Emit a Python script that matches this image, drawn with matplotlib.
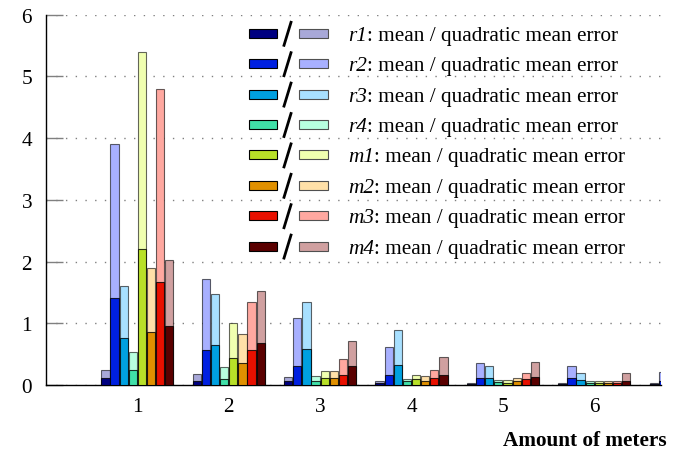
import numpy as np
import matplotlib
matplotlib.use("Agg")
import matplotlib.pyplot as plt
from matplotlib.patches import Rectangle
from matplotlib.lines import Line2D

plt.rcParams['font.family'] = 'serif'
plt.rcParams['font.serif'] = ['Liberation Serif', 'DejaVu Serif']

# Data (amount of meters 1..7, 7 is cut off)
meters = [1, 2, 3, 4, 5, 6, 7]
series = ['r1', 'r2', 'r3', 'r4', 'm1', 'm2', 'm3', 'm4']
nan = np.nan

mean_r1 = [0.11, 0.07, 0.06, 0.03, 0.02, 0.01, 0.01]
mean_r2 = [1.41, 0.56, 0.31, 0.17, 0.12, 0.12, 0.07]
mean_r3 = [0.76, 0.65, 0.59, 0.33, 0.12, 0.08, nan]
mean_r4 = [0.24, 0.10, 0.06, 0.06, 0.05, 0.04, nan]
mean_m1 = [2.20, 0.44, 0.12, 0.09, 0.04, 0.03, nan]
mean_m2 = [0.86, 0.35, 0.11, 0.07, 0.06, 0.04, nan]
mean_m3 = [1.66, 0.57, 0.17, 0.12, 0.10, 0.03, nan]
mean_m4 = [0.95, 0.68, 0.30, 0.16, 0.13, 0.07, nan]

quad_r1 = [0.24, 0.18, 0.13, 0.07, 0.04, 0.03, 0.03]
quad_r2 = [3.91, 1.72, 1.08, 0.61, 0.35, 0.30, 0.21]
quad_r3 = [1.60, 1.48, 1.35, 0.89, 0.31, 0.20, nan]
quad_r4 = [0.54, 0.29, 0.14, 0.10, 0.08, 0.07, nan]
quad_m1 = [5.39, 1.00, 0.22, 0.17, 0.08, 0.06, nan]
quad_m2 = [1.89, 0.82, 0.22, 0.15, 0.12, 0.07, nan]
quad_m3 = [4.79, 1.35, 0.42, 0.25, 0.19, 0.07, nan]
quad_m4 = [2.02, 1.52, 0.72, 0.46, 0.38, 0.19, nan]

means = [mean_r1, mean_r2, mean_r3, mean_r4, mean_m1, mean_m2, mean_m3, mean_m4]
quads = [quad_r1, quad_r2, quad_r3, quad_r4, quad_m1, quad_m2, quad_m3, quad_m4]

dark = ['#000080', '#0020e0', '#00a0e0', '#40e0a8',
        '#b8e028', '#e09000', '#e81000', '#5a0000']
light = ['#a8a8d8', '#a8b0ff', '#a8e0ff', '#b8ffe0',
         '#f0ffb0', '#ffe0a8', '#ffa8a0', '#d0a0a0']

W, H = 689, 452
fig = plt.figure(figsize=(W / 100, H / 100), dpi=100)
ax = fig.add_axes([46 / W, 1 - 386 / H, (661 - 46) / W, (386 - 15.5) / H])

x = np.array(meters, dtype=float)
for k in range(len(series)):
    pos = x - 0.35 + 0.1 * k
    # quadratic mean error behind, mean error in front
    ax.bar(pos, quads[k], width=0.09, color=light[k],
           edgecolor=(0, 0, 0, 0.6), linewidth=0.8, zorder=2)
    ax.bar(pos, means[k], width=0.09, color=dark[k],
           edgecolor=(0, 0, 0, 0.8), linewidth=0.8, zorder=3)

ax.set_xlim(0, 6.73)
ax.set_ylim(0, 6)
ax.set_xticks(meters[:6])
ax.set_yticks(range(7))
ax.set_axisbelow(True)
ax.yaxis.grid(True, color='#808080', linestyle=(0, (1, 6)), linewidth=1)

for s in ['top', 'right']:
    ax.spines[s].set_visible(False)
for s in ['left', 'bottom']:
    ax.spines[s].set_linewidth(1)
    ax.spines[s].set_color('black')

ax.tick_params(axis='y', direction='in', length=12, width=1,
               color='#808080', pad=10, labelsize=15.3)
ax.tick_params(axis='x', length=0, pad=9, labelsize=15.3)

fig.text(667 / W, 1 - 446 / H, 'Amount of meters', fontsize=15.3,
         fontweight='bold', ha='right', va='baseline')

# legend drawn by hand: dark patch / light patch  label
def fx(px):
    return px / W

def fy(py):
    return 1 - py / H

for i, name in enumerate(series):
    yc = 34.3 + 30.4 * i
    fig.add_artist(Rectangle((fx(249), fy(yc + 4.5)), 28 / W, 9 / H,
                             facecolor=dark[i], edgecolor='black', lw=0.8,
                             transform=fig.transFigure))
    fig.add_artist(Line2D([fx(284), fx(291)], [fy(yc + 12), fy(yc - 11)],
                          color='black', lw=2, transform=fig.transFigure))
    fig.add_artist(Rectangle((fx(299), fy(yc + 4.5)), 29 / W, 9 / H,
                             facecolor=light[i], edgecolor='#505050', lw=0.8,
                             transform=fig.transFigure))
    t = fig.text(fx(348), fy(yc + 6.5), name, fontsize=15.3,
                 style='italic', va='baseline')
    ax.annotate(': mean / quadratic mean error', xy=(1, 0), xycoords=t,
                fontsize=15.3, ha='left', va='bottom')

fig.savefig('out.png', dpi=100)
